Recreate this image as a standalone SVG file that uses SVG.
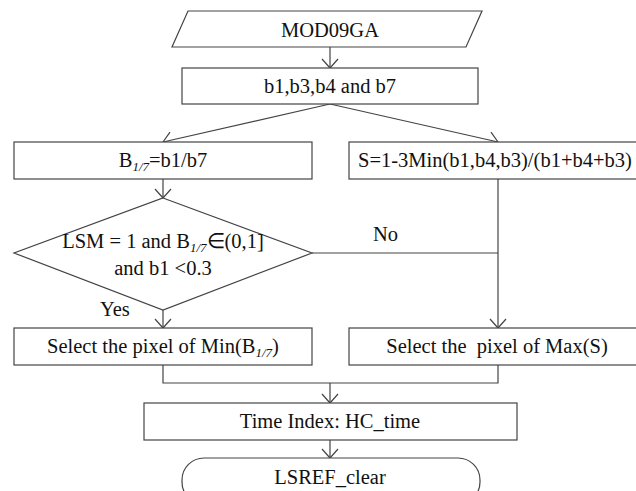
<svg xmlns="http://www.w3.org/2000/svg" width="636" height="491" viewBox="0 0 636 491">
<style>
.s{fill:#fff;stroke:#444;stroke-width:1.2}
.c{fill:none;stroke:#444;stroke-width:1.2}
text{font-size:20.5px;fill:#111}
.m{text-anchor:middle}
.sub{font-style:italic;font-size:13px}
</style>
<defs>
<marker id="a" markerUnits="userSpaceOnUse" markerWidth="12" markerHeight="20" viewBox="-10 -9 12 18" refX="0" refY="0" orient="auto">
<path d="M-9,-8 L0,0 L-9,8" fill="none" stroke="#444" stroke-width="1.2"/>
</marker>
</defs>
<rect width="636" height="491" fill="#fff"/>
<g font-family="Liberation Serif, Times New Roman, serif">
<g id="connectors">
<line class="c" x1="330" y1="47" x2="330" y2="68" marker-end="url(#a)"/>
<line class="c" x1="330" y1="104" x2="163" y2="142" marker-end="url(#a)"/>
<line class="c" x1="330" y1="104" x2="498" y2="142" marker-end="url(#a)"/>
<line class="c" x1="163" y1="179" x2="163" y2="198" marker-end="url(#a)"/>
<line class="c" x1="163" y1="310" x2="163" y2="328" marker-end="url(#a)"/>
<line class="c" x1="312" y1="253" x2="498" y2="253"/>
<line class="c" x1="498" y1="179" x2="498" y2="328" marker-end="url(#a)"/>
<polyline class="c" points="163,365 163,383 498,383 498,365"/>
<line class="c" x1="330" y1="383" x2="330" y2="403" marker-end="url(#a)"/>
<line class="c" x1="330" y1="440" x2="330" y2="458" marker-end="url(#a)"/>
<text x="373" y="241">No</text>
<text x="100" y="316">Yes</text>
</g>
<g id="mod09ga">
<polygon class="s" points="188,11 482,11 466,47 172,47"/>
<text class="m" x="330" y="37">MOD09GA</text>
</g>
<g id="bands">
<rect class="s" x="182" y="68" width="296" height="36"/>
<text class="m" x="330" y="93">b1,b3,b4 and b7</text>
</g>
<g id="ratio">
<rect class="s" x="14" y="142" width="298" height="37"/>
<text class="m" x="163" y="167">B<tspan class="sub" dy="4">1/7</tspan><tspan dy="-4">=b1/b7</tspan></text>
</g>
<g id="sindex">
<rect class="s" x="349" y="142" width="300" height="37"/>
<text x="358" y="167">S=1-3Min(b1,b4,b3)/(b1+b4+b3)</text>
</g>
<g id="decision">
<polygon class="s" points="163,198 312,253 163,310 14,253"/>
<text class="m" x="163" y="248">LSM = 1 and B<tspan class="sub" dy="4">1/7</tspan><tspan dy="-4">∈(0,1]</tspan></text>
<text class="m" x="163" y="275">and b1 &lt;0.3</text>
</g>
<g id="selectmin">
<rect class="s" x="14" y="328" width="298" height="37"/>
<text class="m" x="163" y="353">Select the pixel of Min(B<tspan class="sub" dy="4">1/7</tspan><tspan dy="-4">)</tspan></text>
</g>
<g id="selectmax">
<rect class="s" x="349" y="328" width="300" height="37"/>
<text class="m" x="497" y="353" xml:space="preserve">Select the  pixel of Max(S)</text>
</g>
<g id="timeindex">
<rect class="s" x="144" y="403" width="373" height="37"/>
<text class="m" x="330" y="428">Time Index: HC_time</text>
</g>
<g id="lsref">
<rect class="s" x="182" y="458" width="298" height="46" rx="22" ry="22"/>
<text class="m" x="330" y="484">LSREF_clear</text>
</g>
</g>
</svg>
